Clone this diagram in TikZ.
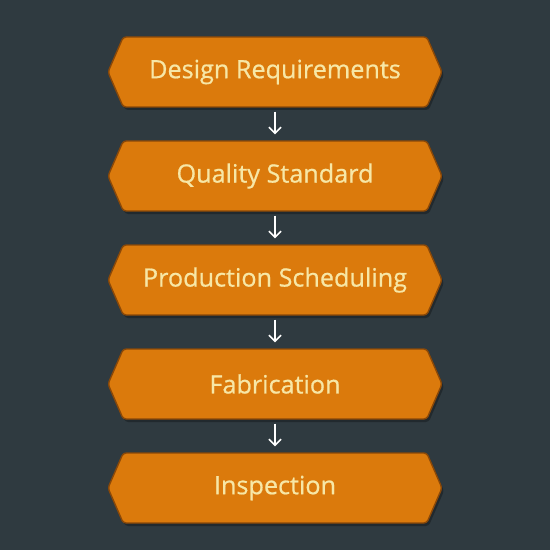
\documentclass[tikz,border=0pt]{standalone}
\usepackage{fontspec}
\setmainfont{Open Sans}
\newfontfamily\boxfont[FakeBold=0.7]{Open Sans}
\usetikzlibrary{arrows.meta,shapes.symbols}
\definecolor{bgcol}{HTML}{2F3A40}
\definecolor{boxcol}{HTML}{DB7A0C}
\definecolor{boxedge}{HTML}{8A4808}
\definecolor{txtcol}{HTML}{F7E7A6}
\tikzset{
  hexbox/.style={shape=signal,signal to=west and east,signal pointer angle=133,
    minimum width=334bp,minimum height=70bp,inner sep=0pt,
    fill=boxcol,draw=boxedge,line width=1.4bp,rounded corners=3bp,
    text=txtcol,font=\boxfont\fontsize{25.3}{28}\selectfont},
  shadowbox/.style={shape=signal,signal to=west and east,signal pointer angle=133,
    minimum width=334bp,minimum height=70bp,inner sep=0pt,
    fill=black,opacity=0.28,rounded corners=3bp},
  flowarrow/.style={draw=white,line width=1.6bp,shorten <=4bp,shorten >=6bp,
    -{Straight Barb[length=6bp,width=12bp,line width=1.6bp]}}
}
\begin{document}
\begin{tikzpicture}[x=1bp,y=-1bp]
\fill[bgcol] (0,0) rectangle (550,550);
\useasboundingbox (0,0) rectangle (550,550);
\node[shadowbox] (sa) at (277,75) {};
\node[shadowbox] (sb) at (277,179) {};
\node[shadowbox] (sc) at (277,283) {};
\node[shadowbox] (sd) at (277,387) {};
\node[shadowbox] (se) at (277,491) {};
\node[hexbox] (a) at (275,72) {Design Requirements};
\node[hexbox] (b) at (275,176) {Quality Standard};
\node[hexbox] (c) at (275,280) {Production Scheduling};
\node[hexbox] (d) at (275,384) {Fabrication};
\node[hexbox] (e) at (275,488) {Inspection};
\draw[flowarrow] (a.south) -- (b.north);
\draw[flowarrow] (b.south) -- (c.north);
\draw[flowarrow] (c.south) -- (d.north);
\draw[flowarrow] (d.south) -- (e.north);
\end{tikzpicture}
\end{document}
